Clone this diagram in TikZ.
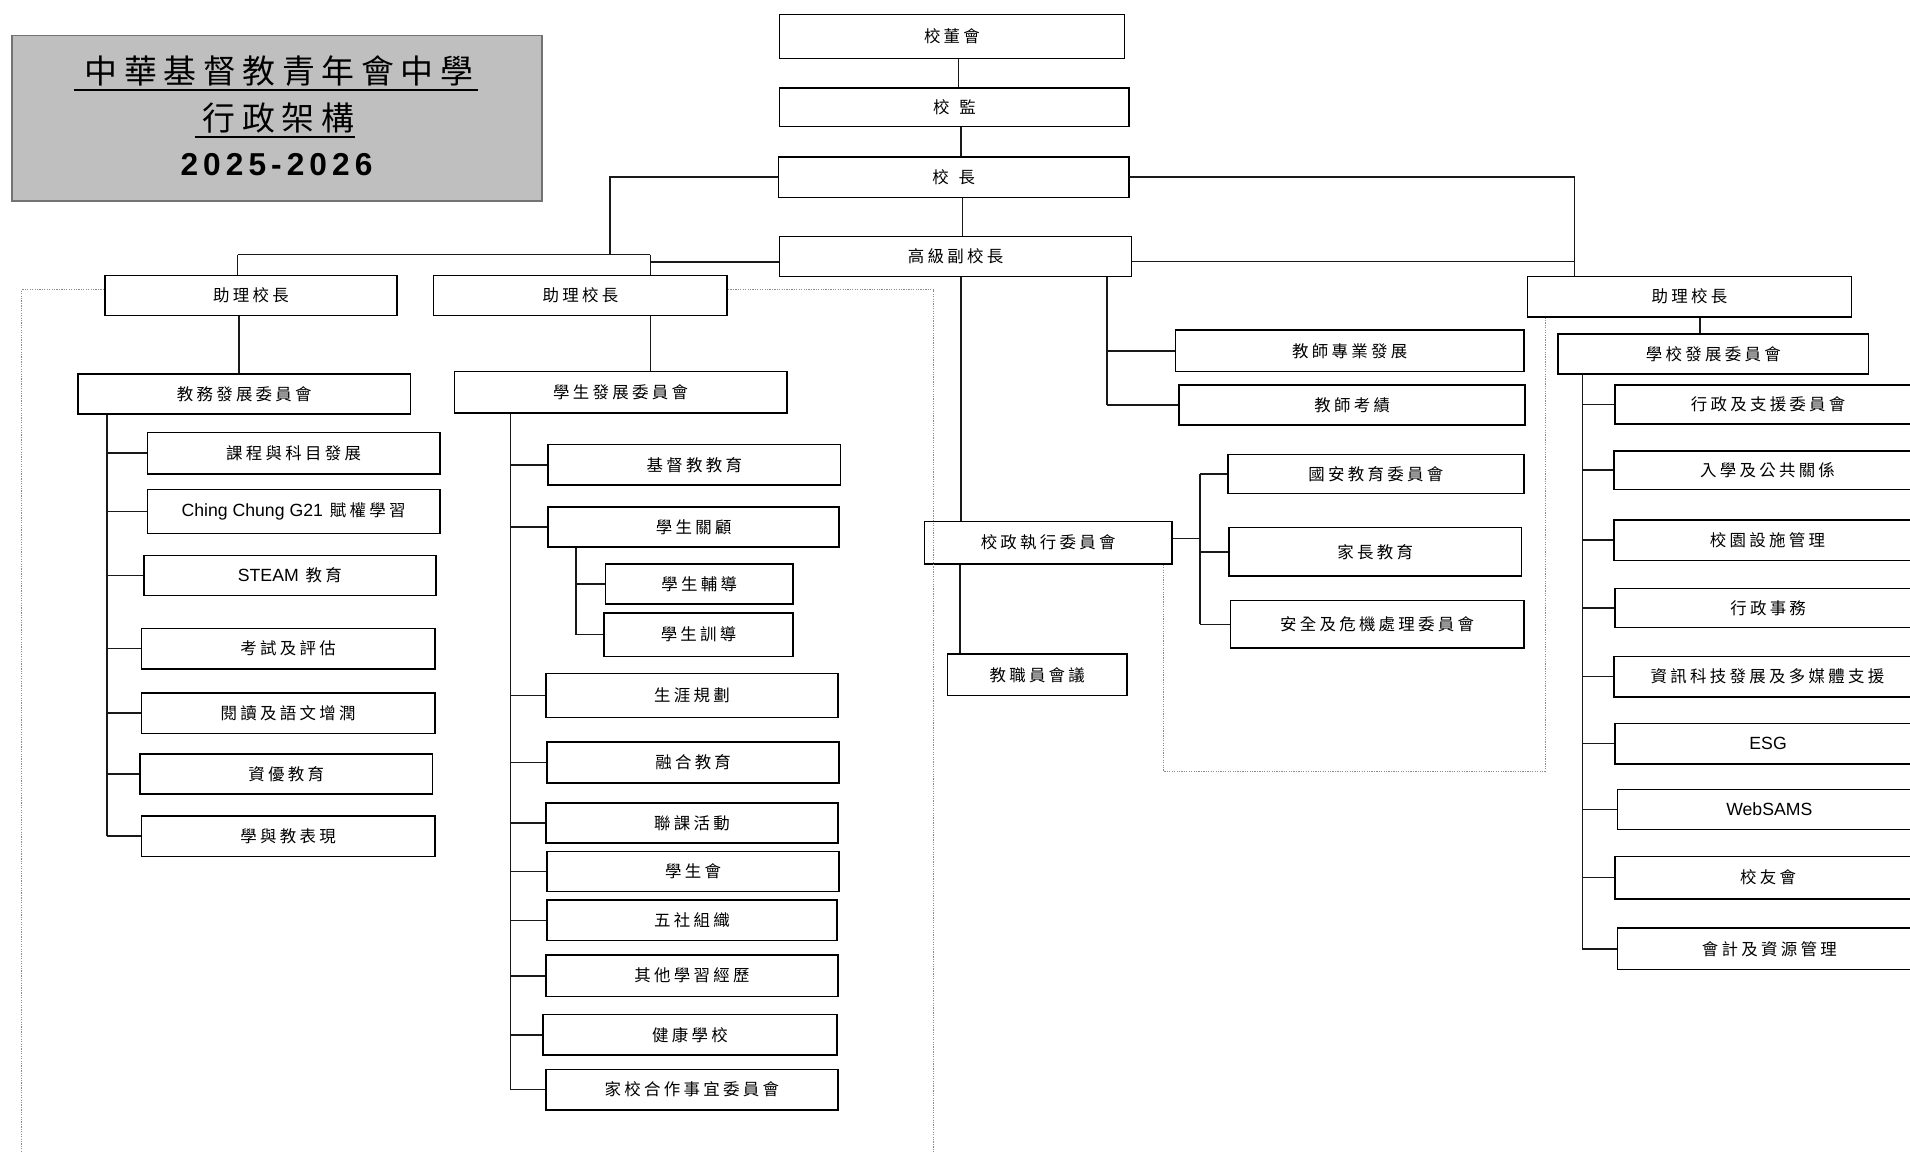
\documentclass[tikz,border=0pt]{standalone}
\usepackage{fontspec}
\setmainfont{Noto Sans CJK TC}[LetterSpace=20]
\newfontfamily\titlefont{Noto Sans CJK TC}[LetterSpace=20]
\newfontfamily\latfont{Liberation Sans}
\newfontfamily\yearfont{Liberation Sans}[LetterSpace=16]
\usetikzlibrary{calc}
\tikzset{
  box/.style={draw=black, line width=1.3pt, fill=white, inner sep=0pt, text=black, font=\fontsize{13.5}{15}\selectfont},
  conn/.style={draw=black!90, line width=1.3pt},
  dotline/.style={draw=black!45, line width=0.7pt, dash pattern=on 1pt off 1pt},
  titlebox/.style={draw=black!55, line width=1.2pt, fill=black!25, inner sep=0pt},
}
\newcommand\bx[6]{\node[box, minimum width={(#4)-(#2)}, minimum height={(#5)-(#3)}] (#1) at ({((#2)+(#4))/2},{((#3)+(#5))/2}) {#6};}
\newcommand\lt[1]{{\latfont\fontsize{14.5}{16}\selectfont #1}}
\begin{document}
\begin{tikzpicture}[x=1pt,y=-1pt]
\useasboundingbox (0,0) rectangle (1568,945.7);
\clip (0,0) rectangle (1568,945.7);

% title
\node[titlebox, minimum width=435, minimum height=136] (title) at (227.5,97) {};
\node[font=\titlefont\fontsize{27}{30}\selectfont, inner sep=0pt] (t1) at (229,58.8) {中華基督教青年會中學};
\node[font=\titlefont\fontsize{27}{30}\selectfont, inner sep=0pt] (t2) at (228.5,97) {行政架構};
\node[font=\yearfont\bfseries\fontsize{26}{30}\selectfont, inner sep=0pt] (t3) at (227,135.5) {2025-2026};
\draw[line width=1.4pt] (61,73.9) -- (392,73.9);
\draw[line width=1.4pt] (160,112.2) -- (291.5,112.2);

% top chain
\bx{bod}{640}{12}{923}{48}{校董會}
\bx{sup}{640}{72}{927}{104}{校\hspace{8pt}監}
\bx{pri}{639}{129}{927}{162}{校\hspace{8pt}長}
\bx{svp}{640}{194}{929}{227}{高級副校長}

% assistant principals
\bx{ap1}{86}{226}{326}{259}{助理校長}
\bx{ap2}{356}{226}{597}{259}{助理校長}
\bx{ap3}{1254}{227}{1520}{260}{助理校長}

% committees
\bx{jw}{64}{307}{337}{340}{教務發展委員會}
\bx{sd}{373}{305}{646}{339}{學生發展委員會}
\bx{sdc}{1279}{274}{1534}{307}{學校發展委員會}

% left column
\bx{a1}{121}{355}{361}{389}{課程與科目發展}
\bx{a2}{121}{402}{361}{438}{\lt{Ching Chung G21} 賦權學習}
\bx{a3}{118}{456}{358}{489}{\lt{STEAM} 教育}
\bx{a4}{116}{516}{357}{549}{考試及評估}
\bx{a5}{116}{569}{357}{602}{閱讀及語文增潤}
\bx{a6}{115}{619}{355}{652}{資優教育}
\bx{a7}{116}{670}{357}{703}{學與教表現}

% middle column
\bx{b1}{450}{365}{690}{398}{基督教教育}
\bx{b2}{450}{416}{689}{449}{學生關顧}
\bx{b2a}{497}{463}{651}{496}{學生輔導}
\bx{b2b}{496}{503}{651}{539}{學生訓導}
\bx{b3}{448}{553}{688}{589}{生涯規劃}
\bx{b4}{449}{609}{689}{643}{融合教育}
\bx{b5}{448}{659}{688}{692}{聯課活動}
\bx{b6}{449}{699}{689}{732}{學生會}
\bx{b7}{449}{739}{687}{772}{五社組織}
\bx{b8}{448}{784}{688}{818}{其他學習經歷}
\bx{b9}{446}{833}{687}{866}{健康學校}
\bx{b10}{448}{878}{688}{911}{家校合作事宜委員會}

% senior VP branch
\bx{c1}{965}{271}{1251}{305}{教師專業發展}
\bx{c2}{968}{316}{1252}{349}{教師考績}
\bx{exe}{759}{428}{962}{463}{校政執行委員會}
\bx{st}{778}{537}{925}{571}{教職員會議}
\bx{d1}{1008}{373}{1251}{405}{國安教育委員會}
\bx{d2}{1009}{433}{1249}{473}{家長教育}
\bx{d3}{1010}{493}{1251}{532}{安全及危機處理委員會}

% right column
\bx{e1}{1326}{316}{1577}{348}{行政及支援委員會}
\bx{e2}{1325}{370}{1577}{402}{入學及公共關係}
\bx{e3}{1325}{427}{1577}{460}{校園設施管理}
\bx{e4}{1326}{483}{1577}{515}{行政事務}
\bx{e5}{1325}{539}{1577}{572}{資訊科技發展及多媒體支援}
\bx{e6}{1326}{594}{1577}{627}{\lt{ESG}}
\bx{e7}{1328}{648}{1577}{681}{\lt{WebSAMS}}
\bx{e8}{1326}{703}{1577}{738}{校友會}
\bx{e9}{1328}{762}{1577}{796}{會計及資源管理}

% coordinates for connector lines
\coordinate (xA) at (501,209);
\coordinate (xL) at (195,209);
\coordinate (xR) at (534,209);
\coordinate (xE) at (1292.7,0);
\coordinate (x1) at (196,0);
\coordinate (x3) at (1395.7,0);
\coordinate (tj) at (88,0);
\coordinate (ts) at (419,0);
\coordinate (tb) at (473,0);
\coordinate (tc) at (908.6,0);
\coordinate (tv) at (788,0);
\coordinate (td) at (985,0);
\coordinate (te) at (1299,0);
\coordinate (xd) at (955.2,633);
\coordinate (xq) at (1268.5,633);
\coordinate (svpL) at ([yshift=-4.5pt]svp.west);
\coordinate (svpR) at ([yshift=-4pt]svp.east);
\coordinate (exR) at ([yshift=3.5pt]exe.east);
\coordinate (dl1) at ([yshift=4.5pt]ap1.west);
\coordinate (dl2) at ([yshift=4.5pt]ap2.east);

% top chain connectors
\draw[conn] ([xshift=5.5pt]bod.south) -- ([xshift=5.5pt]bod.south |- sup.north);
\draw[conn] ([xshift=5.5pt]sup.south) -- ([xshift=5.5pt]sup.south |- pri.north);
\draw[conn] ([xshift=7pt]pri.south) -- ([xshift=7pt]pri.south |- svp.north);
\draw[conn] ([xshift=4.5pt]svp.south) -- ([xshift=4.5pt]svp.south |- exe.north);
\draw[conn] (exe.south -| tv) -- (st.north -| tv);

% principal to assistant principals
\draw[conn] (pri.west) -| (xA);
\draw[conn] (xL) -- (xR);
\draw[conn] (xL) -- (xL |- ap1.north);
\draw[conn] (xR) -- (xR |- ap2.north);
\draw[conn] (svpL) -- (svpL -| xR);
\draw[conn] (pri.east) -| (xE |- ap3.north);
\draw[conn] (svpR) -- (svpR -| xE);

% assistant principals to committees
\draw[conn] (ap1.south -| x1) -- (jw.north -| x1);
\draw[conn] (ap2.south -| xR) -- (sd.north -| xR);
\draw[conn] (ap3.south -| x3) -- (sdc.north -| x3);

% left trunk
\draw[conn] (jw.south -| tj) -- (a7.west -| tj);
\foreach \n in {a1,a2,a3,a4,a5,a6,a7} \draw[conn] (\n.west -| tj) -- (\n.west);

% middle trunk
\draw[conn] (sd.south -| ts) -- (b10.west -| ts);
\foreach \n in {b1,b2,b3,b4,b5,b6,b7,b8,b9,b10} \draw[conn] (\n.west -| ts) -- (\n.west);
\draw[conn] (b2.south -| tb) -- (b2b.west -| tb);
\foreach \n in {b2a,b2b} \draw[conn] (\n.west -| tb) -- (\n.west);

% senior VP branches
\draw[conn] (svp.south -| tc) -- (c2.west -| tc);
\foreach \n in {c1,c2} \draw[conn] (\n.west -| tc) -- (\n.west);
\draw[conn] (d1.west -| td) -- (d3.west -| td);
\foreach \n in {d1,d2,d3} \draw[conn] (\n.west -| td) -- (\n.west);
\draw[conn] (exR) -- (exR -| td);

% right trunk
\draw[conn] (sdc.south -| te) -- (e9.west -| te);
\foreach \n in {e1,e2,e3,e4,e5,e6,e7,e8,e9} \draw[conn] (\n.west -| te) -- (\n.west);

% dotted frames
\draw[dotline] (dl1) -| (18,950);
\draw[dotline] (dl2) -| (766.6,950);
\draw[dotline] (exe.south -| xd) -- (xd) -- (xq) -- (xq |- ap3.south);
\end{tikzpicture}
\end{document}
